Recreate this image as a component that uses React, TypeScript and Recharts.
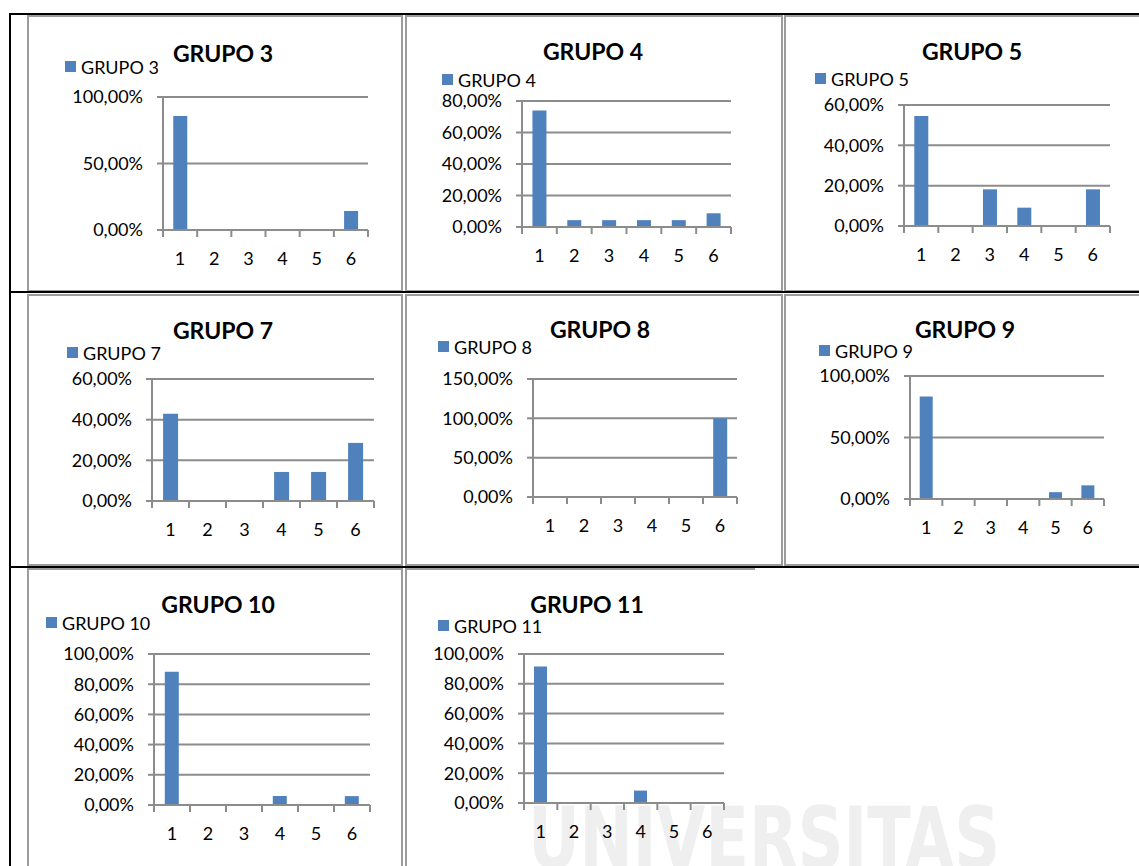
import React from "react";
import { BarChart, Bar, XAxis, YAxis, CartesianGrid, Legend } from "recharts";

// answer categories shared by every group
const categories = ["1", "2", "3", "4", "5", "6"];

// share of answers per category (%)
const grupo3 = [85.71, 0, 0, 0, 0, 14.29];
const grupo4 = [73.91, 4.35, 4.35, 4.35, 4.35, 8.7];
const grupo5 = [54.55, 0, 18.18, 9.09, 0, 18.18];
const grupo7 = [42.86, 0, 0, 14.29, 14.29, 28.57];
const grupo8 = [0, 0, 0, 0, 0, 100];
const grupo9 = [83.33, 0, 0, 0, 5.56, 11.11];
const grupo10 = [88.24, 0, 0, 5.88, 0, 5.88];
const grupo11 = [91.67, 0, 0, 8.33, 0, 0];

// y axis ticks (%)
const ticks3 = [0, 50, 100];
const ticks4 = [0, 20, 40, 60, 80];
const ticks5 = [0, 20, 40, 60];
const ticks7 = [0, 20, 40, 60];
const ticks8 = [0, 50, 100, 150];
const ticks9 = [0, 50, 100];
const ticks10 = [0, 20, 40, 60, 80, 100];
const ticks11 = [0, 20, 40, 60, 80, 100];

const BAR = "#4f81bd";
const GRID = "#8c8c8c";
const FRAME = "#9c9c9c";
const FONT = "Lato, 'Open Sans', sans-serif";
const X_TICK_SIZE = 6;
const X_TICK_MARGIN = 16;

type Box = { x: number; y: number; w: number; h: number };
type Plot = { l: number; t: number; r: number; b: number };

interface PanelSpec {
  name: string;
  values: number[];
  ticks: number[];
  frame: Box;
  plot: Plot;
  titleX: number;
  titleY: number;
  legendX: number;
  legendY: number;
  noRight?: boolean;
}

const panels: PanelSpec[] = [
  {
    name: "GRUPO 3", values: grupo3, ticks: ticks3,
    frame: { x: 27, y: 15, w: 376, h: 277 },
    plot: { l: 163, t: 97, r: 368, b: 230 },
    titleX: 223, titleY: 62, legendX: 65, legendY: 61,
  },
  {
    name: "GRUPO 4", values: grupo4, ticks: ticks4,
    frame: { x: 405, y: 15, w: 378, h: 277 },
    plot: { l: 522, t: 101, r: 731, b: 227 },
    titleX: 593, titleY: 60, legendX: 442, legendY: 74,
  },
  {
    name: "GRUPO 5", values: grupo5, ticks: ticks5,
    frame: { x: 784, y: 15, w: 357, h: 277 },
    plot: { l: 904, t: 105, r: 1110, b: 226 },
    titleX: 972, titleY: 60, legendX: 815, legendY: 73,
  },
  {
    name: "GRUPO 7", values: grupo7, ticks: ticks7,
    frame: { x: 27, y: 294, w: 376, h: 272 },
    plot: { l: 152, t: 379, r: 374, b: 501 },
    titleX: 223, titleY: 339, legendX: 67, legendY: 347,
  },
  {
    name: "GRUPO 8", values: grupo8, ticks: ticks8,
    frame: { x: 405, y: 294, w: 378, h: 272 },
    plot: { l: 533, t: 379, r: 737, b: 497 },
    titleX: 600, titleY: 338, legendX: 438, legendY: 341,
  },
  {
    name: "GRUPO 9", values: grupo9, ticks: ticks9,
    frame: { x: 784, y: 294, w: 357, h: 272 },
    plot: { l: 910, t: 376, r: 1104, b: 499 },
    titleX: 965, titleY: 338, legendX: 819, legendY: 345,
  },
  {
    name: "GRUPO 10", values: grupo10, ticks: ticks10,
    frame: { x: 27, y: 568, w: 376, h: 300 },
    plot: { l: 154, t: 654, r: 370, b: 805 },
    titleX: 218, titleY: 613, legendX: 46, legendY: 617,
  },
  {
    name: "GRUPO 11", values: grupo11, ticks: ticks11,
    frame: { x: 405, y: 568, w: 350, h: 300 },
    plot: { l: 524, t: 654, r: 724, b: 803 },
    titleX: 587, titleY: 613, legendX: 438, legendY: 620,
    noRight: true,
  },
];

const pct = (v: number) => `${v.toFixed(2).replace(".", ",")}%`;

// category label plus Excel-style tick marks on the band boundaries
function CategoryTick(props: any) {
  const { x, y, payload, index, visibleTicksCount, band } = props;
  const half = payload && payload.offset ? payload.offset : band / 2;
  const axisY = y - X_TICK_SIZE - X_TICK_MARGIN;
  const last = index === visibleTicksCount - 1;
  return (
    <g>
      <line x1={x - half} x2={x - half} y1={axisY} y2={axisY + 7} stroke={GRID} strokeWidth={2} />
      {last && <line x1={x + half} x2={x + half} y1={axisY} y2={axisY + 7} stroke={GRID} strokeWidth={2} />}
      <text x={x} y={y} dy="0.71em" textAnchor="middle" fill="#000" fontSize={18} fontFamily={FONT}>
        {payload.value}
      </text>
    </g>
  );
}

function Panel({ spec }: { spec: PanelSpec }) {
  const { frame, plot } = spec;
  const data = categories.map((cat, i) => ({ cat, value: spec.values[i] }));
  const band = (plot.r - plot.l) / categories.length;
  const margin = {
    top: plot.t - frame.y,
    right: frame.x + frame.w - plot.r,
    bottom: frame.y + frame.h - plot.b - 1,
    left: 0,
  };
  const yMax = spec.ticks[spec.ticks.length - 1];

  return (
    <div style={{ position: "absolute", left: frame.x, top: frame.y, width: frame.w, height: frame.h }}>
      <div
        style={{
          position: "absolute",
          inset: 0,
          boxSizing: "border-box",
          border: `2px solid ${FRAME}`,
          borderRight: spec.noRight ? "none" : `2px solid ${FRAME}`,
        }}
      />
      <BarChart width={frame.w} height={frame.h} data={data} margin={margin} barCategoryGap="30%">
        <CartesianGrid vertical={false} stroke={GRID} strokeWidth={2} />
        <XAxis
          dataKey="cat"
          height={1}
          interval={0}
          tickLine={false}
          tickSize={X_TICK_SIZE}
          tickMargin={X_TICK_MARGIN}
          axisLine={{ stroke: GRID, strokeWidth: 2 }}
          tick={<CategoryTick band={band} />}
        />
        <YAxis
          width={plot.l - frame.x}
          domain={[0, yMax]}
          ticks={spec.ticks}
          interval={0}
          tickFormatter={pct}
          tickSize={6}
          tickMargin={14}
          axisLine={{ stroke: GRID, strokeWidth: 2 }}
          tickLine={{ stroke: GRID, strokeWidth: 2 }}
          tick={{ fill: "#000", fontSize: 18, fontFamily: FONT }}
        />
        <Legend
          layout="horizontal"
          verticalAlign="middle"
          align="center"
          wrapperStyle={{
            left: spec.legendX - frame.x,
            top: spec.legendY - frame.y - 4.5,
            width: "auto",
          }}
          content={({ payload }: any) => (
            <div
              style={{
                display: "flex",
                alignItems: "center",
                fontFamily: FONT,
                fontSize: 18,
                lineHeight: "20px",
                color: "#000",
                whiteSpace: "nowrap",
              }}
            >
              {(payload || []).map((item: any) => (
                <React.Fragment key={item.value}>
                  <span style={{ display: "inline-block", width: 11, height: 11, background: item.color, marginRight: 5 }} />
                  <span>{item.value}</span>
                </React.Fragment>
              ))}
            </div>
          )}
        />
        <Bar dataKey="value" name={spec.name} fill={BAR} isAnimationActive={false} />
      </BarChart>
      <svg
        width={frame.w}
        height={frame.h}
        style={{ position: "absolute", left: 0, top: 0, pointerEvents: "none" }}
      >
        <text
          x={spec.titleX - frame.x}
          y={spec.titleY - frame.y}
          textAnchor="middle"
          fontFamily={FONT}
          fontWeight="bold"
          fontSize={23}
          fill="#000"
        >
          {spec.name}
        </text>
      </svg>
    </div>
  );
}

export default function App() {
  return (
    <div style={{ position: "absolute", left: 0, top: 0, width: 1139, height: 866, overflow: "hidden", background: "#fff" }}>
      {/* faint watermark behind the table */}
      <svg width={1139} height={866} style={{ position: "absolute", left: 0, top: 0 }}>
        <text
          x={528}
          y={868}
          fontFamily="'Liberation Sans Narrow', 'DejaVu Sans Condensed', 'Liberation Sans', sans-serif"
          fontWeight="bold"
          fontSize={86}
          textLength={472}
          lengthAdjust="spacingAndGlyphs"
          fill="#efefef"
        >
          UNIVERSITAS
        </text>
      </svg>
      {panels.map((p) => (
        <Panel key={p.name} spec={p} />
      ))}
      {/* table rules */}
      <svg width={1139} height={866} style={{ position: "absolute", left: 0, top: 0, pointerEvents: "none" }}>
        <rect x={9} y={13} width={1130} height={2} fill="#000" />
        <rect x={9} y={291} width={1130} height={2} fill="#000" />
        <rect x={9} y={566} width={1130} height={2} fill="#000" />
        <rect x={9} y={13} width={2} height={853} fill="#000" />
      </svg>
    </div>
  );
}
